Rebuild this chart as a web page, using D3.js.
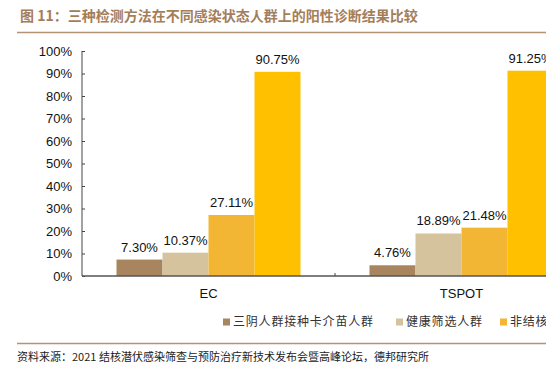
<!DOCTYPE html>
<html>
<head>
<meta charset="utf-8">
<script src="https://cdn.jsdelivr.net/npm/d3@7"></script>
<style>
  html, body { margin: 0; padding: 0; background: #fff; overflow: hidden; }
  svg { display: block; }
</style>
</head>
<body>
<div id="chart"></div>
<script>
// data
var categories = ["EC", "TSPOT"];
var seriesNames = ["三阴人群接种卡介苗人群", "健康筛选人群", "非结核分枝杆菌感染人群", "活动性结核病人群"];
var seriesColors = ["#A8855E", "#D4C39C", "#F3B634", "#FFC000"];
var ecValues = [7.30, 10.37, 27.11, 90.75];
var tspotValues = [4.76, 18.89, 21.48, 91.25];
var yTicks = [0, 10, 20, 30, 40, 50, 60, 70, 80, 90, 100];

var titleText = "图 11：三种检测方法在不同感染状态人群上的阳性诊断结果比较";
var sourceText = "资料来源：2021 结核潜伏感染筛查与预防治疗新技术发布会暨高峰论坛，德邦研究所";

var values = {EC: ecValues, TSPOT: tspotValues};

var width = 546, height = 366;
var latin = "'Liberation Sans', Arial, sans-serif";
var cjk = "'Noto Sans CJK SC', sans-serif";

var svg = d3.select("#chart").append("svg")
    .attr("width", width)
    .attr("height", height);

// title + rule
svg.append("text")
    .attr("x", 20).attr("y", 21)
    .attr("font-family", cjk)
    .attr("font-size", 14)
    .attr("font-weight", "bold")
    .attr("fill", "#A47E5A")
    .text(titleText);
svg.append("line")
    .attr("x1", 17).attr("x2", width)
    .attr("y1", 32.5).attr("y2", 32.5)
    .attr("stroke", "#B39373").attr("stroke-width", 1.5);

// scales (plot runs past the right edge, as in the source)
var x = d3.scaleBand()
    .domain(categories)
    .range([82, 588])
    .paddingInner(0.2727)
    .paddingOuter(0.1364);

var x1 = d3.scaleBand()
    .domain(d3.range(seriesNames.length))
    .range([0, x.bandwidth()]);

var y = d3.scaleLinear()
    .domain([0, 100])
    .range([276, 51]);

// bars
var groups = svg.append("g").selectAll("g")
    .data(categories)
    .enter().append("g")
    .attr("transform", function(c) { return "translate(" + x(c) + ",0)"; });

groups.selectAll("rect")
    .data(function(c) { return values[c].map(function(v, i) { return {v: v, i: i}; }); })
    .enter().append("rect")
    .attr("x", function(d) { return x1(d.i); })
    .attr("width", x1.bandwidth())
    .attr("y", function(d) { return y(d.v); })
    .attr("height", function(d) { return y(0) - y(d.v); })
    .attr("fill", function(d) { return seriesColors[d.i]; });

groups.selectAll("text")
    .data(function(c) { return values[c].map(function(v, i) { return {v: v, i: i}; }); })
    .enter().append("text")
    .attr("x", function(d) { return x1(d.i) + x1.bandwidth() / 2; })
    .attr("y", function(d) { return y(d.v) - 8; })
    .attr("text-anchor", "middle")
    .attr("font-family", latin)
    .attr("font-size", 13)
    .attr("fill", "#111")
    .text(function(d) { return d.v.toFixed(2) + "%"; });

// y axis, ticks pointing inwards
var yAxis = svg.append("g")
    .attr("transform", "translate(82,0)")
    .call(d3.axisLeft(y).tickValues(yTicks).tickSize(-3).tickPadding(10)
        .tickFormat(function(d) { return d + "%"; }));
yAxis.select(".domain").attr("stroke", "#444").attr("d", "M0," + y(100) + "V" + y(0));
yAxis.selectAll(".tick line").attr("stroke", "#444");
yAxis.selectAll("text")
    .attr("font-family", latin)
    .attr("font-size", 13)
    .attr("fill", "#111");

// x axis line and boundary ticks
svg.append("line")
    .attr("x1", 82).attr("x2", 588)
    .attr("y1", y(0)).attr("y2", y(0))
    .attr("stroke", "#555").attr("stroke-width", 1.5);
var step = x.step();
svg.selectAll(".xtick")
    .data(categories)
    .enter().append("line")
    .attr("class", "xtick")
    .attr("x1", function(c) { return x(c) + x.bandwidth() + (step - x.bandwidth()) / 2; })
    .attr("x2", function(c) { return x(c) + x.bandwidth() + (step - x.bandwidth()) / 2; })
    .attr("y1", y(0)).attr("y2", y(0) - 3)
    .attr("stroke", "#444");
svg.selectAll(".xlabel")
    .data(categories)
    .enter().append("text")
    .attr("class", "xlabel")
    .attr("x", function(c) { return x(c) + x.bandwidth() / 2; })
    .attr("y", 297.5)
    .attr("text-anchor", "middle")
    .attr("font-family", latin)
    .attr("font-size", 13)
    .attr("fill", "#111")
    .text(function(c) { return c; });

// legend
var legendX = [223, 396, 500, 640];
var legend = svg.selectAll(".legend")
    .data(seriesNames)
    .enter().append("g")
    .attr("class", "legend")
    .attr("transform", function(d, i) { return "translate(" + legendX[i] + ",318.5)"; });
legend.append("rect")
    .attr("width", 7).attr("height", 7)
    .attr("fill", function(d, i) { return seriesColors[i]; });
legend.append("text")
    .attr("x", 10).attr("y", 7.5)
    .attr("font-family", cjk)
    .attr("font-size", 12)
    .attr("letter-spacing", 0.8)
    .attr("fill", "#333")
    .text(function(d) { return d; });

// source
svg.append("line")
    .attr("x1", 17).attr("x2", width)
    .attr("y1", 343.5).attr("y2", 343.5)
    .attr("stroke", "#B39373").attr("stroke-width", 1.5);
svg.append("text")
    .attr("x", 17).attr("y", 361)
    .attr("font-family", cjk)
    .attr("font-size", 11)
    .attr("fill", "#222")
    .text(sourceText);
</script>
</body>
</html>
